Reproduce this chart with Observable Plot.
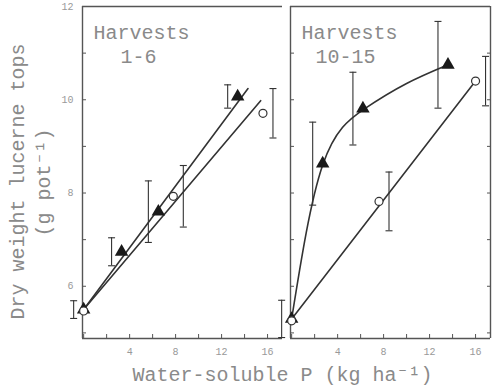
<!DOCTYPE html>
<html><head><meta charset="utf-8">
<script src="https://cdn.jsdelivr.net/npm/d3@7"></script>
<script src="https://cdn.jsdelivr.net/npm/@observablehq/plot@0.6"></script>
<style>body{margin:0;background:#fff}</style>
</head><body><div id="chart"></div>
<script>
// ---- data ----
const panels = ["1-6", "10-15"];
const panelHeading = "Harvests";
const yTitle1 = "Dry weight lucerne tops";
const yTitle2 = "(g pot\u207B\u00B9)";
const xTitle = "Water-soluble P (kg ha\u207B\u00B9)";

// Harvests 1-6
const triX_A = [0, 3.3, 6.5, 13.4];
const triY_A = [5.5, 6.74, 7.6, 10.07];
const triE_A = [0.19, 0.3, 0.66, 0.25];
const openX_A = [0, 7.8, 15.6];
const openY_A = [5.47, 7.93, 9.71];
const openE_A = [null, 0.66, 0.53];
const fitTriX_A = [0, 14.3];
const fitTriY_A = [5.5, 10.24];
const fitOpenX_A = [0, 15.4];
const fitOpenY_A = [5.5, 9.98];

// Harvests 10-15
const triX_B = [0, 2.7, 6.2, 13.6];
const triY_B = [5.3, 8.63, 9.81, 10.75];
const triE_B = [0.4, 0.89, 0.78, 0.93];
const openX_B = [0, 7.6, 16.0];
const openY_B = [5.26, 7.82, 10.4];
const openE_B = [null, 0.63, 0.53];
const fitTriX_B = [0, 2.7, 6.3, 10, 13.3];
const fitTriY_B = [5.3, 8.6, 9.8, 10.35, 10.72];
const fitOpenX_B = [0, 16.0];
const fitOpenY_B = [5.3, 10.4];

const xMinorTicks = [0, 2, 4, 6, 8, 10, 12, 14, 16];
const xLabelTicks = [4, 8, 12, 16];
const yMinorTicks = [5, 6, 7, 8, 9, 10, 11, 12];
const yLabelTicks = [6, 8, 10, 12];
const xDomain = [-0.1, 17.3];
const yDomain = [4.88, 12];

// ---- tables ----
function pts(panel, xs, ys, es) {
  return xs.map((x, i) => ({panel, x, y: ys[i], e: es ? es[i] : null}));
}
const tri = [...pts(panels[0], triX_A, triY_A, triE_A), ...pts(panels[1], triX_B, triY_B, triE_B)];
const open = [...pts(panels[0], openX_A, openY_A, openE_A), ...pts(panels[1], openX_B, openY_B, openE_B)];
const straightFits = [
  ...pts(panels[0], fitTriX_A, fitTriY_A).map(d => ({...d, s: "A-tri"})),
  ...pts(panels[0], fitOpenX_A, fitOpenY_A).map(d => ({...d, s: "A-open"})),
  ...pts(panels[1], fitOpenX_B, fitOpenY_B).map(d => ({...d, s: "B-open"}))
];
const curveFit = pts(panels[1], fitTriX_B, fitTriY_B);
const triErr = tri.filter(d => d.e != null).map(d => ({...d, lo: d.y - d.e, hi: d.y + d.e}));
const openErr = open.filter(d => d.e != null).map(d => ({...d, lo: d.y - d.e, hi: d.y + d.e}));
const capsOf = arr => arr.flatMap(d => [{panel: d.panel, x: d.x, y: d.lo}, {panel: d.panel, x: d.x, y: d.hi}]);

const capSymbol = {draw(ctx, size) { const r = Math.sqrt(size / Math.PI); ctx.moveTo(-r, 0); ctx.lineTo(r, 0); }};

const axisC = "#555";
const lineC = "#333";
const textC = "#8a8a8a";
const mono = "Liberation Mono, DejaVu Sans Mono, monospace";
const fs = 20;

const chart = Plot.plot({
  width: 496,
  height: 391,
  marginLeft: 82,
  marginRight: 6,
  marginTop: 6,
  marginBottom: 53,
  fx: {domain: panels, axis: null, paddingInner: 0.04, paddingOuter: 0},
  x: {domain: xDomain},
  y: {domain: yDomain},
  style: {background: "#fff"},
  marks: [
    // frame lines
    Plot.ruleX([xDomain[0]], {stroke: axisC, strokeWidth: 1.4}),
    Plot.ruleY([yDomain[0]], {stroke: axisC, strokeWidth: 1.4}),
    Plot.ruleY([yDomain[1]], {stroke: axisC, strokeWidth: 1.4}),
    Plot.ruleX([{panel: panels[1], x: xDomain[1]}], {fx: "panel", x: "x", stroke: axisC, strokeWidth: 1.4}),
    // ticks
    Plot.axisX(xMinorTicks, {anchor: "bottom", tickSize: -4, tickFormat: () => "", stroke: axisC, label: null, facetAnchor: null}),
    Plot.axisX(xLabelTicks, {anchor: "bottom", tickSize: 0, tickPadding: 9, fill: "#999", fontSize: 10, fontFamily: mono, label: null, facetAnchor: null}),
    Plot.axisY(yMinorTicks, {anchor: "left", tickSize: -4, tickFormat: () => "", stroke: axisC, label: null, facetAnchor: null}),
    Plot.axisY(yLabelTicks, {anchor: "left", tickSize: 0, tickPadding: 9, fill: "#999", fontSize: 10, fontFamily: mono, label: null, facetAnchor: "left"}),
    Plot.axisY(yMinorTicks, {anchor: "right", tickSize: -4, tickFormat: () => "", stroke: axisC, label: null, facetAnchor: "right"}),
    // fitted lines
    Plot.line(straightFits, {fx: "panel", x: "x", y: "y", z: "s", stroke: lineC, strokeWidth: 1.6}),
    Plot.line(curveFit, {fx: "panel", x: "x", y: "y", stroke: lineC, strokeWidth: 1.6, curve: "natural"}),
    // error bars
    Plot.ruleX(triErr, {fx: "panel", x: "x", y1: "lo", y2: "hi", dx: -10, stroke: lineC, strokeWidth: 1.1}),
    Plot.dot(capsOf(triErr), {fx: "panel", x: "x", y: "y", dx: -10, r: 3.5, symbol: capSymbol, stroke: lineC, strokeWidth: 1.1, fill: "none"}),
    Plot.ruleX(openErr, {fx: "panel", x: "x", y1: "lo", y2: "hi", dx: 10, stroke: lineC, strokeWidth: 1.1}),
    Plot.dot(capsOf(openErr), {fx: "panel", x: "x", y: "y", dx: 10, r: 3.5, symbol: capSymbol, stroke: lineC, strokeWidth: 1.1, fill: "none"}),
    // points
    Plot.dot(tri, {fx: "panel", x: "x", y: "y", symbol: "triangle", r: 5, fill: "#1a1a1a", stroke: "none"}),
    Plot.dot(open, {fx: "panel", x: "x", y: "y", symbol: "circle", r: 4, fill: "#fff", stroke: lineC, strokeWidth: 1.2}),
    // panel headings
    Plot.text(panels, {fx: d => d, text: () => panelHeading, frameAnchor: "top-left", textAnchor: "start", dx: 11, dy: 18, fontSize: fs, fontFamily: mono, fill: textC}),
    Plot.text([panels[0]], {fx: d => d, text: d => d, frameAnchor: "top-left", textAnchor: "start", dx: 38, dy: 42, fontSize: fs, fontFamily: mono, fill: textC}),
    Plot.text([panels[1]], {fx: d => d, text: d => d, frameAnchor: "top-left", textAnchor: "start", dx: 25, dy: 42, fontSize: fs, fontFamily: mono, fill: textC}),
    // axis titles
    Plot.text([yTitle1], {fx: () => panels[0], text: d => d, frameAnchor: "left", textAnchor: "middle", rotate: -90, dx: -65, dy: 9, fontSize: fs, fontFamily: mono, fill: textC}),
    Plot.text([yTitle2], {fx: () => panels[0], text: d => d, frameAnchor: "left", textAnchor: "middle", rotate: -90, dx: -39, dy: 10, fontSize: fs, fontFamily: mono, fill: textC}),
    Plot.text([xTitle], {fx: () => panels[0], text: d => d, frameAnchor: "bottom-right", textAnchor: "middle", dx: 0, dy: 42, fontSize: fs, fontFamily: mono, fill: textC})
  ]
});
document.getElementById("chart").appendChild(chart);
</script>
</body></html>
